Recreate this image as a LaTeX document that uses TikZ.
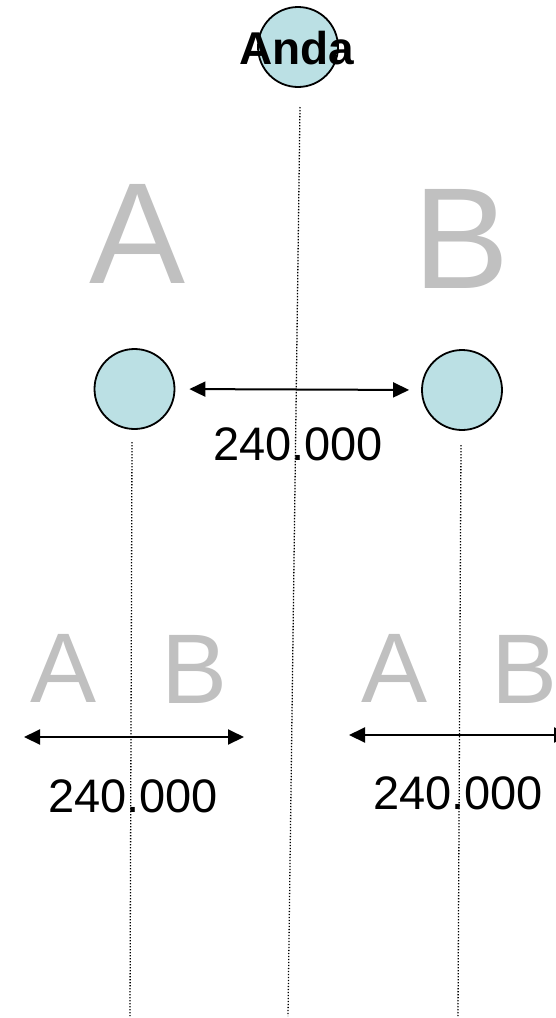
\documentclass[tikz,border=0pt]{standalone}
\usepackage{fontspec}
\setmainfont{Liberation Sans}
\usetikzlibrary{positioning,arrows.meta}
\definecolor{ball}{RGB}{187,224,228}
\definecolor{ghost}{RGB}{192,192,192}
\tikzstyle{planet} = [circle,
                      minimum size=80pt,
                      inner sep=0pt,
                      fill=ball,
                      line width=1.8pt,
                      draw=black]
\tikzstyle{biglabel} = [font=\fontsize{144}{144}\selectfont, text=ghost, inner sep=0pt]
\tikzstyle{smalllabel} = [font=\fontsize{99}{99}\selectfont, text=ghost, inner sep=0pt]
\tikzstyle{distlabel} = [font=\fontsize{47}{47}\selectfont, inner sep=0pt]
\tikzstyle{distarrow} = [{Triangle[length=16pt,width=15pt]}-{Triangle[length=16pt,width=15pt]},
                         line width=2pt]
\tikzstyle{sightline} = [line width=1.3pt, dash pattern=on 1.3pt off 1.7pt]

\begin{document}
\begin{tikzpicture}[x=1pt, y=-1pt]
\useasboundingbox (0,0) rectangle (556,1018);
\clip (0,0) rectangle (556,1018);
% observer on top
\node (anda) [planet] at (298,47) {};
\node (andalabel) [font=\fontsize{46}{46}\selectfont\bfseries, inner sep=0pt] at (297,48) {Anda};
% the two ships
\node (bigA) [biglabel] at (138,233.5) {A};
\node (bigB) [biglabel] at (462,238.5) {B};
\node (circA) [planet] at (134.5,389) {};
\node (circB) [planet] at (462,390) {};
\draw [distarrow, shorten <=14pt, shorten >=12pt] (circA.east) -- (circB.west);
\node (distmid) [distlabel] at (298,444) {240.000};
% seen from A and from B
\node (lowA1) [smalllabel] at (63.5,668.5) {A};
\node (lowB1) [smalllabel] at (194.5,669) {B};
\node (lowA2) [smalllabel] at (394.5,668) {A};
\node (lowB2) [smalllabel] at (525,669) {B};
\coordinate (arrL1) at (24,737);
\coordinate (arrL2) at (244,737);
\coordinate (arrR1) at (349,735);
\coordinate (arrR2) at (570,735);
\draw [distarrow] (arrL1) -- (arrL2);
\draw [distarrow] (arrR1) -- (arrR2);
\node (distleft) [distlabel] at (133,796) {240.000};
\node (distright) [distlabel] at (458,793.5) {240.000};
% time lines
\coordinate (topM) at (300,107);
\coordinate (botM) at (288,1016);
\coordinate (topA) at (132,442);
\coordinate (botA) at (130,1016);
\coordinate (topB) at (461,445);
\coordinate (botB) at (458,1016);
\draw [sightline] (topM) -- (botM);
\draw [sightline] (topA) -- (botA);
\draw [sightline] (topB) -- (botB);
\end{tikzpicture}
\end{document}
